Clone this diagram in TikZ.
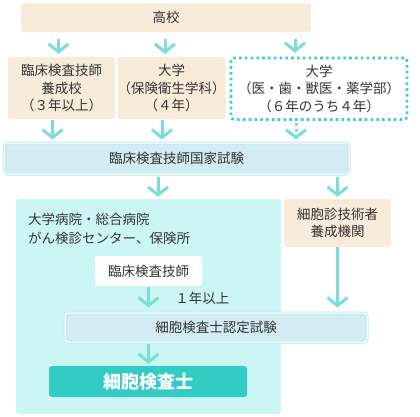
\documentclass[tikz,border=0pt]{standalone}
\usepackage{fontspec}
\setmainfont{Noto Sans CJK JP}
\usetikzlibrary{arrows.meta,calc}
\definecolor{beige}{HTML}{F8EBD9}
\definecolor{arrc}{HTML}{7ADDD7}
\definecolor{dotc}{HTML}{3DCFC8}
\definecolor{bigc}{HTML}{CCF6F3}
\definecolor{examc}{HTML}{D3EBF2}
\definecolor{examb}{HTML}{C3EBF0}
\definecolor{finalc}{HTML}{33CCC5}
\definecolor{txt}{HTML}{333333}
\tikzset{
  box/.style={rectangle, rounded corners=3pt, inner sep=0pt, align=center, text=txt,
    font=\fontsize{13.5}{17.5}\selectfont},
  beigebox/.style={box, fill=beige},
  exambox/.style={box, fill=examc, draw=examb, line width=1pt, double=white, double distance=1pt},
  arr/.style={draw=arrc, line width=3pt, -{Straight Barb[length=8pt, width=20pt]}},
}
\newcommand{\bx}[6]{\node[#1, minimum width=#4-#2, minimum height=#5-#3] (#6) at ({(#2+#4)/2},{(#3+#5)/2})}
\begin{document}
\begin{tikzpicture}[x=1pt,y=-1pt]
\useasboundingbox (0,0) rectangle (420,416);
\fill[white] (0,0) rectangle (420,416);
% big cyan area
\bx{box, fill=bigc}{16}{199}{281}{414}{big} {};
\node[text=txt, anchor=west, align=left, inner sep=0pt, font=\fontsize{13.5}{19}\selectfont] (bigtxt) at (28,228.5)
  {大学病院・総合病院\\がん検診センター、保険所};
% top
\bx{beigebox}{21}{3}{311}{32}{koko} {高校};
\bx{beigebox}{8}{57}{115}{119}{b1} {臨床検査技師\\養成校\\（３年以上）};
\bx{beigebox}{118}{57}{225}{119}{b2} {大学\\（保険衛生学科）\\（４年）};
\bx{box, draw=dotc, line width=2.6pt, dash pattern=on 2.6pt off 3.2pt, fill=white}{231}{58}{407}{119.5}{b3} {大学\\（医・歯・獣医・薬学部）\\（６年のうち４年）};
\bx{exambox}{4}{143}{349}{174}{exam} {臨床検査技師国家試験};
\bx{beigebox}{284}{199}{391}{247}{right} {細胞診技術者\\養成機関};
\bx{box, fill=white}{95}{256}{202}{286}{clt} {臨床検査技師};
\bx{exambox}{65}{313}{367}{342}{cert} {\hspace*{0pt}細胞検査士認定試験};
\bx{box, fill=finalc, text=white, font=\fontsize{18}{20}\selectfont\bfseries}{49}{366}{247}{397}{final} {細胞検査士};
% x positions
\coordinate (xa) at (58.5,0);
\coordinate (xb) at (165,0);
\coordinate (xc) at (295,0);
\coordinate (xd) at (52.5,0);
\coordinate (xe) at (162,0);
\coordinate (xf) at (296,0);
\coordinate (xg) at (158,0);
\coordinate (xh) at (337.5,0);
\coordinate (xi) at (148.5,0);
% arrows
\draw[arr, shorten <=7pt, shorten >=3pt] (koko.south -| xa) -- (b1.north -| xa);
\draw[arr, shorten <=7pt, shorten >=3pt] (koko.south -| xb) -- (b2.north -| xb);
\draw[arr, shorten <=7pt, shorten >=4pt] (koko.south -| xc) -- (b3.north -| xc);
\draw[arr, shorten <=1pt, shorten >=3pt] (b1.south -| xd) -- (exam.north -| xd);
\draw[arr, shorten <=1pt, shorten >=3pt] (b2.south -| xe) -- (exam.north -| xe);
\draw[arr, dash pattern=on 3pt off 3pt, shorten <=2pt, shorten >=3pt] (b3.south -| xf) -- (exam.north -| xf);
\draw[arr, shorten <=2pt, shorten >=2pt] (exam.south -| xg) -- (big.north -| xg);
\draw[arr, shorten <=2pt, shorten >=2pt] (exam.south -| xh) -- (right.north -| xh);
\draw[arr, shorten <=0pt, shorten >=5pt] (right.south) -- (cert.north -| right.south);
\draw[arr, shorten <=1pt, shorten >=5pt] (clt.south -| xi) -- node[right=22pt, text=txt, font=\fontsize{13.5}{16}\selectfont, pos=0.45] (yr) {１年以上} (cert.north -| xi);
\draw[arr, shorten <=1pt, shorten >=2pt] (cert.south -| xi) -- (final.north -| xi);
\end{tikzpicture}
\end{document}
